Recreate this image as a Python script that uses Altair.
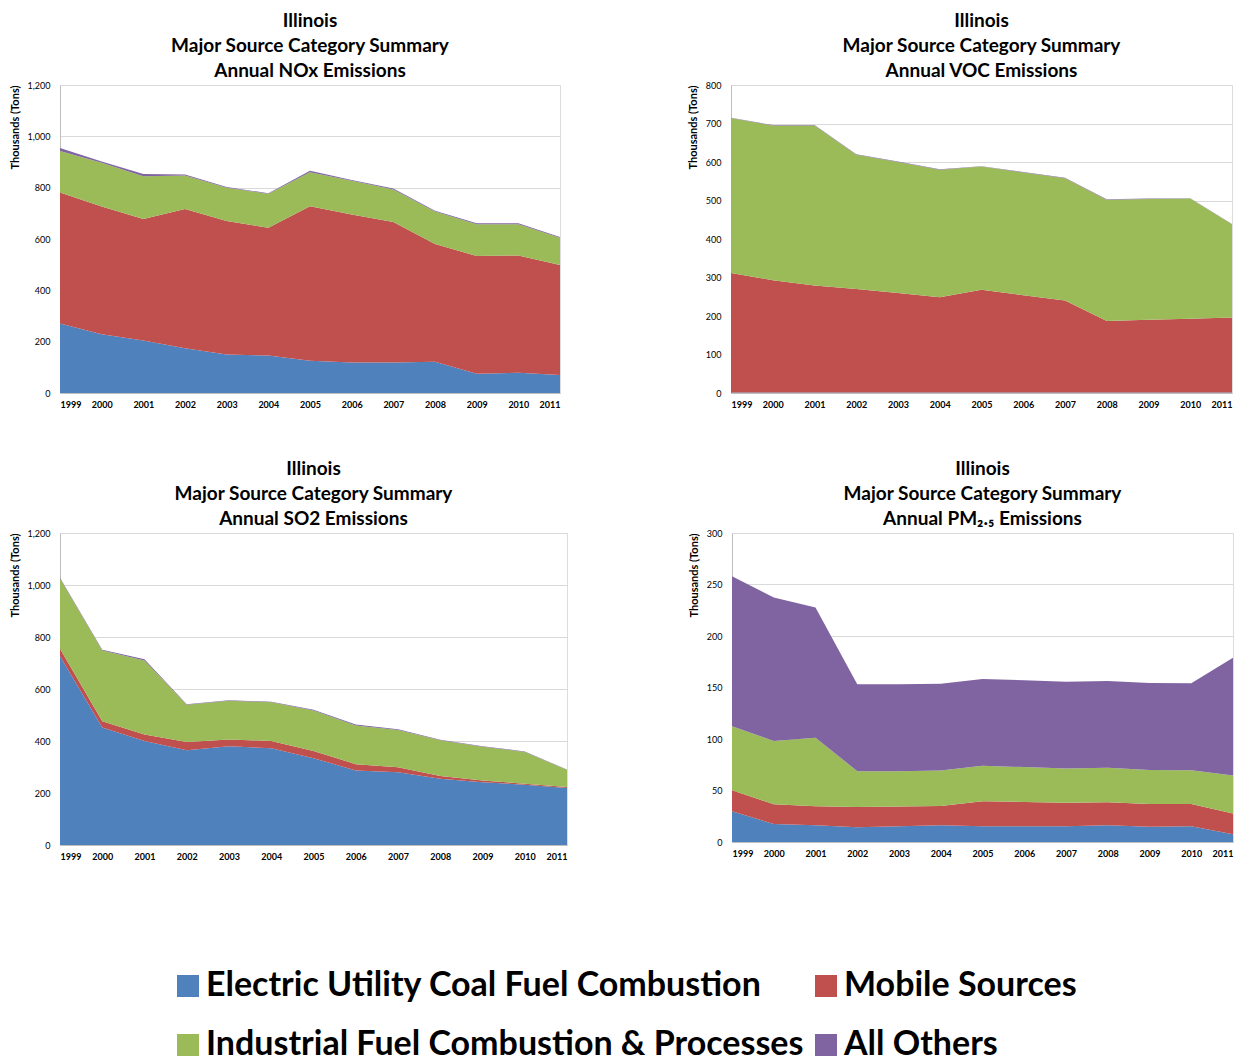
import altair as alt
import pandas as pd

years = list(range(1999, 2012))
categories = [
    "Electric Utility Coal Fuel Combustion",
    "Mobile Sources",
    "Industrial Fuel Combustion & Processes",
    "All Others",
]
colors = ["#4F81BD", "#C0504D", "#9BBB59", "#8064A2"]
# order of entries in the legend (two columns)
legend_order = [0, 2, 1, 3]

# NOx (thousand tons)
nox_electric = [271, 229, 205, 174, 150, 146, 126, 119, 119, 122, 75, 79, 70]
nox_mobile = [510, 498, 473, 543, 520, 498, 602, 576, 547, 459, 459, 457, 429]
nox_industrial = [162, 170, 166, 130, 130, 132, 132, 132, 127, 126, 123, 121, 106]
nox_others = [12, 5, 9, 4, 3, 2, 6, 3, 4, 3, 4, 4, 3]

# VOC
voc_electric = [1, 1, 1, 1, 1, 1, 1, 1, 1, 1, 1, 1, 1]
voc_mobile = [311, 292, 278, 269, 259, 248, 267, 253, 239, 186, 189, 192, 195]
voc_industrial = [402, 402, 416, 349, 340, 331, 320, 319, 318, 315, 314, 312, 242]
voc_others = [1, 1, 1, 1, 1, 1, 1, 1, 1, 1, 1, 1, 1]

# SO2
so2_electric = [726, 452, 400, 364, 380, 372, 334, 287, 280, 255, 241, 232, 219]
so2_mobile = [29, 24, 25, 32, 26, 28, 28, 24, 19, 10, 7, 4, 4]
so2_industrial = [270, 272, 285, 143, 149, 149, 155, 149, 143, 138, 130, 122, 66]
so2_others = [3, 3, 4, 2, 2, 2, 3, 3, 3, 2, 2, 2, 1]

# PM2.5
pm_electric = [29.8, 17.5, 16.2, 14.3, 15.2, 16.2, 15.2, 15.2, 15.2, 16.2, 14.9, 15.2, 7.5]
pm_mobile = [20.5, 19.2, 18.5, 19.8, 19.2, 18.8, 24.4, 23.7, 22.8, 22.4, 22.1, 21.8, 20.1]
pm_industrial = [62.2, 61.3, 66.5, 34.7, 34.4, 34.4, 34.4, 33.8, 33.4, 33.4, 33.0, 32.7, 36.9]
pm_others = [145.4, 139.4, 126.5, 84.3, 84.3, 84.3, 84.3, 84.3, 84.3, 84.3, 84.4, 84.4, 114.5]

FONT = "Lato"

legend_domain = [categories[i] for i in legend_order]
legend_range = [colors[i] for i in legend_order]


def make_df(series):
    rows = []
    for ci, (cat, vals) in enumerate(zip(categories, series)):
        for y, v in zip(years, vals):
            rows.append({"year": y, "category": cat, "value": v, "ord": ci})
    return pd.DataFrame(rows)


legend = alt.Legend(
    title=None,
    orient="none",
    legendX=111,
    legendY=884,
    columns=2,
    symbolType="square",
    symbolSize=484,
    symbolStrokeWidth=0,
    labelFontSize=34,
    labelFont=FONT,
    labelFontWeight="bold",
    labelColor="#000000",
    labelLimit=0,
    rowPadding=25,
    columnPadding=5,
    labelOffset=1,
)


def panel(series, title_lines, ymax, step, w, h):
    df = make_df(series)
    return (
        alt.Chart(df)
        .mark_area(opacity=1)
        .encode(
            x=alt.X(
                "year:Q",
                scale=alt.Scale(domain=[1999, 2011], nice=False, zero=False),
                axis=alt.Axis(
                    values=years,
                    format="d",
                    title=None,
                    grid=False,
                    ticks=False,
                    labelFontSize=9,
                    labelFont=FONT,
                    labelFontWeight="bold",
                    labelColor="#000000",
                    labelPadding=7,
                    labelOverlap=False,
                    domainColor="#BFBFBF",
                ),
            ),
            y=alt.Y(
                "value:Q",
                stack="zero",
                scale=alt.Scale(domain=[0, ymax], nice=False),
                axis=alt.Axis(
                    values=list(range(0, ymax + 1, step)),
                    format=",d",
                    title="Thousands (Tons)",
                    titleFont=FONT,
                    titleFontSize=11,
                    titleFontWeight="bold",
                    titleColor="#000000",
                    titlePadding=7,
                    titleAnchor="end",
                    ticks=False,
                    labelFontSize=9,
                    labelFont=FONT,
                    labelColor="#000000",
                    labelPadding=10,
                    gridColor="#D9D9D9",
                    domainColor="#BFBFBF",
                ),
            ),
            color=alt.Color(
                "category:N",
                scale=alt.Scale(domain=legend_domain, range=legend_range),
                legend=legend,
            ),
            order=alt.Order("ord:Q", sort="ascending"),
        )
        .properties(
            width=w,
            height=h,
            title=alt.TitleParams(
                text=title_lines,
                font=FONT,
                fontSize=19,
                fontWeight="bold",
                color="#000000",
                anchor="middle",
                lineHeight=25,
                offset=0,
            ),
        )
    )


p1 = panel([nox_electric, nox_mobile, nox_industrial, nox_others],
           ["Illinois", "Major Source Category Summary", "Annual NOx Emissions"], 1200, 200, 500, 308)
p2 = panel([voc_electric, voc_mobile, voc_industrial, voc_others],
           ["Illinois", "Major Source Category Summary", "Annual VOC Emissions"], 800, 100, 501, 308)
p3 = panel([so2_electric, so2_mobile, so2_industrial, so2_others],
           ["Illinois", "Major Source Category Summary", "Annual SO2 Emissions"], 1200, 200, 507, 312)
p4 = panel([pm_electric, pm_mobile, pm_industrial, pm_others],
           ["Illinois", "Major Source Category Summary", "Annual PM₂.₅ Emissions"], 300, 50, 501, 309)

chart = (
    alt.vconcat(
        alt.hconcat(p1, p2, spacing=125),
        alt.hconcat(p3, p4, spacing=119),
        spacing=49,
    )
    .properties(padding={"top": 3, "left": 0, "right": 0, "bottom": 0})
    .configure_view(strokeWidth=0)
    .configure(background="#FFFFFF")
)

chart.save("out.html", embed_options={"renderer": "svg", "actions": False})
